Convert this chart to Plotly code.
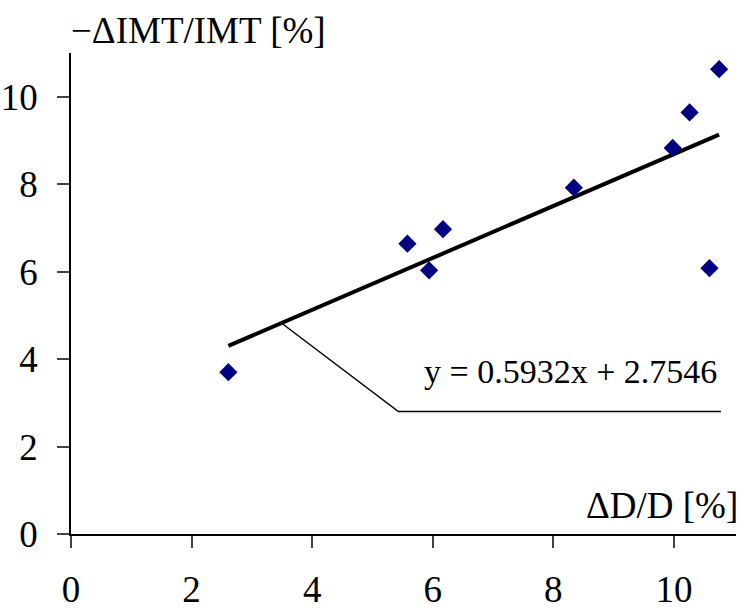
import plotly.graph_objects as go

# Data
dd = [2.61, 5.58, 5.94, 6.17, 8.34, 9.98, 10.26, 10.59, 10.75]
dimt = [3.70, 6.64, 6.03, 6.97, 7.92, 8.83, 9.64, 6.08, 10.63]
slope = 0.5932
intercept = 2.7546
x_ticks = [0, 2, 4, 6, 8, 10]
y_ticks = [0, 2, 4, 6, 8, 10]
eq_text = "y = 0.5932x + 2.7546"
x_title = "ΔD/D [%]"
y_title = "−ΔIMT/IMT [%]"

FONT = "Liberation Serif, Times New Roman, serif"

x0, x1 = min(dd), max(dd)
trend_x = [x0, x1]
trend_y = [slope * v + intercept for v in trend_x]

# leader line for equation label
lead_x0 = 3.49
leader_x = [lead_x0, 5.43, 10.78]
leader_y = [slope * lead_x0 + intercept, 2.80, 2.80]

fig = go.Figure()
fig.add_trace(go.Scatter(x=leader_x, y=leader_y, mode="lines",
                         line=dict(color="black", width=1.5), hoverinfo="skip"))
fig.add_trace(go.Scatter(x=trend_x, y=trend_y, mode="lines",
                         line=dict(color="black", width=4), hoverinfo="skip"))
fig.add_trace(go.Scatter(x=dd, y=dimt, mode="markers",
                         marker=dict(symbol="diamond", size=14, color="#000080")))

fig.add_annotation(x=10.75, y=3.25, xref="x", yref="y", text=eq_text,
                   showarrow=False, xanchor="right", yanchor="bottom",
                   font=dict(family=FONT, size=34, color="black"))
fig.add_annotation(x=1.0, y=0.0, xref="paper", yref="paper", text=x_title,
                   showarrow=False, xanchor="right", yanchor="bottom", yshift=6,
                   xshift=4,
                   font=dict(family=FONT, size=37, color="black"))
fig.add_annotation(x=0.0, y=1.0, xref="paper", yref="paper", text=y_title,
                   showarrow=False, xanchor="left", yanchor="bottom", yshift=0,
                   xshift=-2,
                   font=dict(family=FONT, size=37, color="black"))

fig.update_layout(
    width=741, height=611,
    margin=dict(l=71, r=5, t=53, b=77, autoexpand=False),
    paper_bgcolor="white", plot_bgcolor="white",
    showlegend=False,
    font=dict(family=FONT, size=38, color="black"),
)
fig.update_xaxes(range=[0, 11.03], tickvals=x_ticks, showgrid=False, zeroline=False,
                 showline=True, linecolor="black", linewidth=1.5, automargin=False,
                 ticks="outside", ticklen=12, tickcolor="#444", tickwidth=1.5,
                 ticklabelstandoff=10,
                 tickfont=dict(family=FONT, size=37, color="black"))
fig.update_yaxes(range=[0, 11.0], tickvals=y_ticks, showgrid=False, zeroline=False,
                 showline=True, linecolor="black", linewidth=1.5, automargin=False,
                 ticks="outside", ticklen=12, tickcolor="#444", tickwidth=1.5,
                 ticklabelstandoff=12,
                 tickfont=dict(family=FONT, size=37, color="black"))

fig.write_html("out.html", config={"displayModeBar": False},
               post_script="document.body.style.margin='0';document.body.style.padding='0';")
